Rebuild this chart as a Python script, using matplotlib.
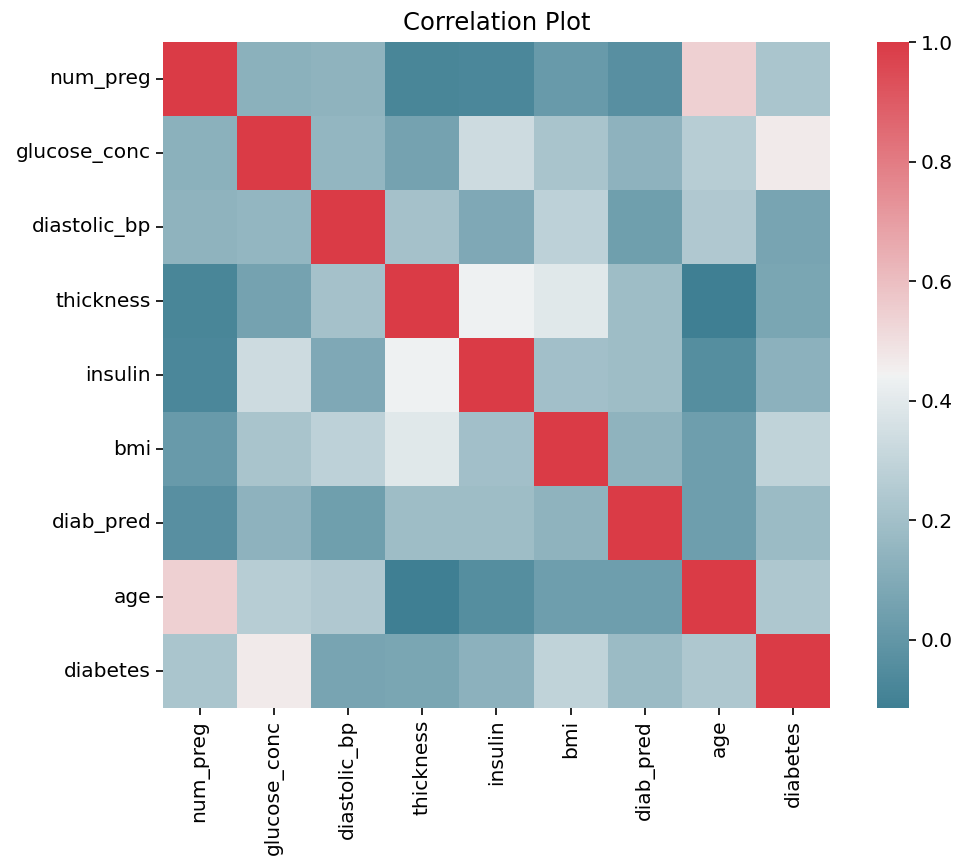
import matplotlib
matplotlib.use("Agg")
import matplotlib.pyplot as plt
import seaborn as sns
import numpy as np
import pandas as pd

labels = ["num_preg", "glucose_conc", "diastolic_bp", "thickness", "insulin",
          "bmi", "diab_pred", "age", "diabetes"]

# upper triangle of the correlation matrix, row by row
r_num_preg = [0.129, 0.141, -0.082, -0.074, 0.018, -0.034, 0.544, 0.222]
r_glucose = [0.153, 0.057, 0.331, 0.221, 0.137, 0.264, 0.467]
r_bp = [0.207, 0.089, 0.282, 0.041, 0.240, 0.065]
r_thickness = [0.437, 0.393, 0.184, -0.114, 0.075]
r_insulin = [0.198, 0.185, -0.042, 0.131]
r_bmi = [0.141, 0.036, 0.293]
r_pred = [0.034, 0.174]
r_age = [0.238]

rows = [r_num_preg, r_glucose, r_bp, r_thickness, r_insulin, r_bmi, r_pred, r_age]
n = len(labels)
mat = np.eye(n)
for i, row in enumerate(rows):
    for k, v in enumerate(row):
        j = i + 1 + k
        mat[i, j] = v
        mat[j, i] = v
corr = pd.DataFrame(mat, index=labels, columns=labels)

W, H = 960, 863
fig = plt.figure(figsize=(W / 100, H / 100), dpi=100)
ax = fig.add_axes([163 / W, (H - 708) / H, (830 - 163) / W, (708 - 42) / H])
cax = fig.add_axes([877 / W, (H - 708) / H, 32 / W, (708 - 42) / H])

cmap = sns.diverging_palette(220, 10, as_cmap=True)
sns.heatmap(corr, cmap=cmap, ax=ax, cbar_ax=cax)
ax.set_title("Correlation Plot", fontsize=17.5, pad=9)
ax.tick_params(labelsize=14.5, length=5, width=1.2)
cax.tick_params(labelsize=14.5, length=5, width=1.2)
fig.savefig("out.png", dpi=100)
